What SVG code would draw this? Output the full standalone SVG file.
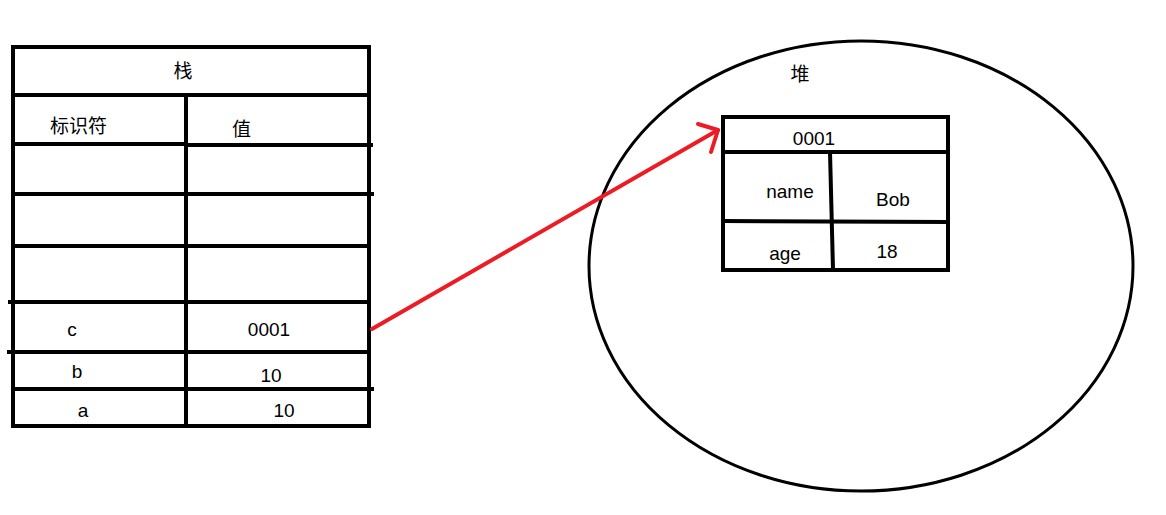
<svg xmlns="http://www.w3.org/2000/svg" width="1166" height="515" viewBox="0 0 1166 515">
<style>
.ln{stroke:#000;stroke-width:4;fill:none;stroke-linecap:square}
.ln3{stroke:#000;stroke-width:3;fill:none}
.t{font-family:"Liberation Sans","Noto Sans CJK SC",sans-serif;font-size:19px;fill:#000}
.c{font-family:"Noto Sans CJK SC",sans-serif;font-size:19px;fill:#000}
.arr{stroke:#ED1C24;stroke-width:4;fill:none;stroke-linecap:round;stroke-linejoin:round}
</style>
<rect width="1166" height="515" fill="#fff"/>
<g id="stack">
<rect class="ln" x="13" y="47" width="356" height="379"/>
<line class="ln" x1="186" y1="95" x2="186" y2="426"/>
<line class="ln" x1="13" y1="95" x2="369" y2="95"/>
<line class="ln" x1="13" y1="144" x2="186" y2="144"/>
<line class="ln" x1="190" y1="145" x2="371" y2="145"/>
<line class="ln" x1="13" y1="194" x2="372" y2="194"/>
<line class="ln" x1="13" y1="246" x2="369" y2="246"/>
<line class="ln" x1="10" y1="302" x2="369" y2="302"/>
<line class="ln" x1="9" y1="352" x2="369" y2="352"/>
<line class="ln" x1="13" y1="389" x2="372" y2="389"/>
<text class="c" x="183" y="78" text-anchor="middle">栈</text>
<text class="c" x="50" y="133">标识符</text>
<text class="c" x="232" y="136">值</text>
<text class="t" x="72" y="336" text-anchor="middle">c</text>
<text class="t" x="269" y="336" text-anchor="middle">0001</text>
<text class="t" x="77" y="378" text-anchor="middle">b</text>
<text class="t" x="271" y="382" text-anchor="middle">10</text>
<text class="t" x="83" y="417" text-anchor="middle">a</text>
<text class="t" x="284" y="417" text-anchor="middle">10</text>
</g>
<g id="heap">
<ellipse class="ln3" cx="861" cy="266" rx="272" ry="225"/>
<text class="c" x="800" y="81" text-anchor="middle">堆</text>
</g>
<g id="object">
<rect class="ln" x="723" y="117" width="225" height="153"/>
<line class="ln" x1="723" y1="152" x2="948" y2="152"/>
<line class="ln" x1="723" y1="221" x2="948" y2="222"/>
<line class="ln" x1="830" y1="152" x2="833" y2="270"/>
<text class="t" x="814" y="145" text-anchor="middle">0001</text>
<text class="t" x="790" y="198" text-anchor="middle">name</text>
<text class="t" x="893" y="206" text-anchor="middle">Bob</text>
<text class="t" x="785" y="260" text-anchor="middle">age</text>
<text class="t" x="887" y="258" text-anchor="middle">18</text>
</g>
<g id="connectors">
<path class="arr" d="M372,329 L718,130"/>
<path class="arr" d="M698,124 L718,130 L711,152"/>
</g>
</svg>
